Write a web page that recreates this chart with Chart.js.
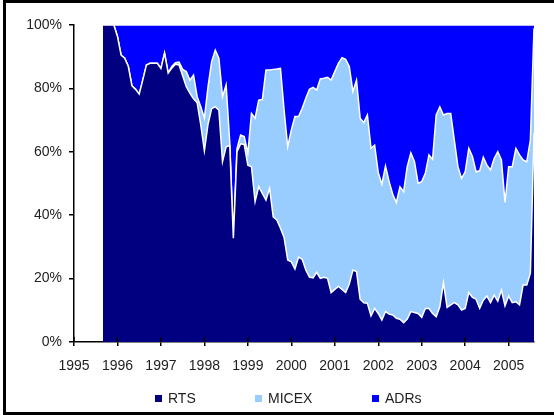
<!DOCTYPE html>
<html><head><meta charset="utf-8">
<script src="https://cdn.jsdelivr.net/npm/chart.js@4/dist/chart.umd.min.js"></script>
<style>
html,body{margin:0;padding:0;background:#fff;}
#wrap{position:relative;width:554px;height:415px;overflow:hidden;}
#frame{position:absolute;left:3px;top:0;width:600px;height:415px;box-sizing:border-box;border-top:3px solid #000;border-left:3px solid #000;border-bottom:3px solid #000;pointer-events:none;}
canvas{position:absolute;left:0;top:0;}
.leg{position:absolute;top:390px;height:16px;font:14px "Liberation Sans",Arial,sans-serif;color:#222;display:flex;align-items:center;white-space:nowrap;}
.leg i{display:inline-block;width:7px;height:7px;margin-right:6px;}
</style></head><body>
<div id="wrap"><canvas id="c" width="554" height="415"></canvas><div id="frame"></div><div id="legend"></div></div>
<script>
// Monthly observations, first month Sep 1995
const startYear = 1995;
const startMonth = 9;
const seriesNames = ['RTS', 'MICEX', 'ADRs'];
const seriesColors = ['#000080', '#99ccff', '#0000ff'];
const yTickValues = [0, 20, 40, 60, 80, 100];
const xTickYears = [1995, 1996, 1997, 1998, 1999, 2000, 2001, 2002, 2003, 2004, 2005];

const rts = [100,100,100,100,96.4,90.5,89.5,86.9,80.8,79.7,78.2,82.7,87.4,87.9,87.9,87.9,86.3,91.1,84.8,86.4,
87.6,87.4,84.0,80.5,78.5,76.7,75.5,68.5,60.3,68.7,73.6,74.2,73.1,56.9,61.6,62.0,32.7,60.0,62.5,62.3,
55.8,55.3,44.3,49.0,46.9,44.8,48.5,39.5,38.5,35.9,33.0,25.9,25.3,23.0,26.8,26.1,22.7,20.5,20.2,22.0,
20.1,20.4,20.1,15.6,16.6,17.5,16.6,15.6,18.3,22.7,22.2,13.5,12.4,12.2,8.2,10.6,9.0,6.9,9.6,8.8,
8.5,7.5,7.2,6.1,7.2,9.6,9.3,9.0,7.8,10.6,10.6,9.0,8.0,11.1,18.7,10.9,11.7,12.4,11.7,10.1,
10.6,15.6,14.1,13.5,10.6,13.2,14.5,12.4,14.8,12.9,16.4,11.4,14.5,12.4,12.7,11.7,18.0,18.0,21.7,66.0];

const micex = [0,0,0,0,0,0,0,0,0,0,0,0,0,0,0,0,0,0,0,0.5,
0.5,0.9,2.0,4.8,4.1,7.5,1.9,5.7,10.3,11.8,14.8,17.9,16.4,20.5,19.5,1.0,0,1.0,2.8,2.5,
3.7,16.8,26.3,27.3,29.6,41.0,37.3,46.5,47.6,50.4,40.2,35.7,41.6,48.1,44.3,47.6,54.2,59.2,60.1,57.5,
62.9,62.8,63.4,67.0,68.7,70.4,73.1,73.6,68.6,56.3,60.4,57.1,56.8,59.4,52.9,51.5,44.4,42.9,45.9,41.8,
38.1,36.5,41.8,41.3,48.1,50.1,47.6,41.1,42.8,42.6,48.4,48.6,63.6,63.1,52.9,61.2,60.4,51.3,43.6,41.5,
43.1,45.5,44.4,40.2,43.4,45.1,41.3,41.9,43.1,47.1,41.0,32.6,40.8,42.9,48.4,47.3,39.4,38.9,42.0,33.0];

const adrs = [0,0,0,0,3.6,9.5,10.5,13.1,19.2,20.3,21.8,17.3,12.6,12.1,12.1,12.1,13.7,8.9,15.2,13.1,
11.9,11.7,14.0,14.7,17.4,15.8,22.6,25.8,29.4,19.5,11.6,7.9,10.5,22.6,18.9,37.0,67.3,39.0,34.7,35.2,
40.5,27.9,29.4,23.7,23.5,14.2,14.2,14.0,13.9,13.7,26.8,38.4,33.1,28.9,28.9,26.3,23.1,20.3,19.7,20.5,
17.0,16.8,16.5,17.4,14.7,12.1,10.3,10.8,13.1,21.0,17.4,29.4,30.8,28.4,38.9,37.9,46.6,50.2,44.5,49.4,
53.4,56.0,51.0,52.6,44.7,40.3,43.1,49.9,49.4,46.8,41.0,42.4,28.4,25.8,28.4,27.9,27.9,36.3,44.7,48.4,
46.3,38.9,41.5,46.3,46.0,41.7,44.2,45.7,42.1,40.0,42.6,56.0,44.7,44.7,38.9,41.0,42.6,43.1,36.3,1.0];

const FONT = {family: '"Liberation Sans", Arial, sans-serif', size: 14};
const xs = rts.map((_, i) => startYear + (startMonth - 1 + i) / 12);
const series = [rts, micex, adrs];

const datasets = series.map((vals, k) => ({
  label: seriesNames[k],
  data: vals.map((v, i) => ({x: xs[i], y: v})),
  backgroundColor: seriesColors[k],
  borderColor: '#ffffff',
  borderWidth: 1.5,
  fill: k === 0 ? 'origin' : '-1',
  pointRadius: 0,
  tension: 0
}));

const innerTicks = {
  id: 'innerTicks',
  afterDatasetsDraw(chart) {
    const s = chart.scales.x, ctx = chart.ctx, b = chart.chartArea.bottom;
    ctx.save();
    ctx.strokeStyle = '#000';
    ctx.lineWidth = 1.5;
    s.ticks.forEach(t => {
      const x = s.getPixelForValue(t.value);
      ctx.beginPath(); ctx.moveTo(x, b - 5); ctx.lineTo(x, b); ctx.stroke();
    });
    ctx.restore();
  }
};

new Chart(document.getElementById('c'), {
  type: 'line',
  data: {datasets},
  plugins: [innerTicks],
  options: {
    responsive: false,
    animation: false,
    layout: {padding: {left: 22, right: 20, top: 25, bottom: 33}},
    plugins: {legend: {display: false}, tooltip: {enabled: false}},
    scales: {
      x: {
        type: 'linear', min: xTickYears[0], max: xs[xs.length - 1],
        afterBuildTicks: s => { s.ticks = xTickYears.map(v => ({value: v})); },
        ticks: {callback: v => String(v), color: '#222', font: FONT, padding: 12, maxRotation: 0, autoSkip: false},
        grid: {drawOnChartArea: false, drawTicks: true, tickLength: 4, color: '#000', lineWidth: 1.5},
        border: {color: '#000', width: 1.5},
        afterFit: s => { s.height = 40; }
      },
      y: {
        stacked: true, min: 0, max: 100,
        afterBuildTicks: s => { s.ticks = yTickValues.map(v => ({value: v})); },
        ticks: {callback: v => v + '%', color: '#222', font: FONT, padding: 7},
        grid: {drawOnChartArea: false, drawTicks: true, tickLength: 5, color: '#000', lineWidth: 1.5},
        border: {color: '#000', width: 1.5},
        afterFit: s => { s.width = 52; }
      }
    }
  }
});

// HTML legend
const legendLefts = [155, 255, 372];
const lg = document.getElementById('legend');
seriesNames.forEach((n, k) => {
  const d = document.createElement('div');
  d.className = 'leg';
  d.style.left = legendLefts[k] + 'px';
  const b = document.createElement('i');
  b.style.background = seriesColors[k];
  d.appendChild(b);
  d.appendChild(document.createTextNode(n));
  lg.appendChild(d);
});
</script>
</body></html>
